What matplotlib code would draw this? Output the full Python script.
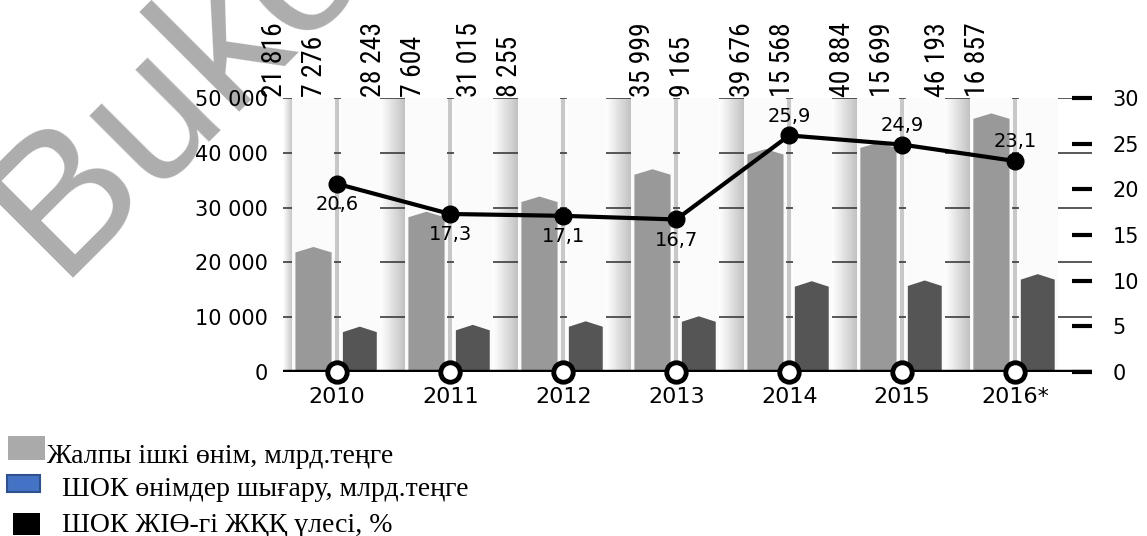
import numpy as np
import matplotlib.pyplot as plt
from matplotlib import font_manager as fm
from matplotlib.patches import Polygon, Rectangle
from matplotlib.transforms import blended_transform_factory

years = ['2010', '2011', '2012', '2013', '2014', '2015', '2016*']
gdp = [21816, 28243, 31015, 35999, 39676, 40884, 46193]
sme_output = [7276, 7604, 8255, 9165, 15568, 15699, 16857]
sme_share = [20.6, 17.3, 17.1, 16.7, 25.9, 24.9, 23.1]
left_ticks = [0, 10000, 20000, 30000, 40000, 50000]
right_ticks = [0, 5, 10, 15, 20, 25, 30]
legend_labels = ['Жалпы ішкі өнім, млрд.теңге',
                 'ШОК өнімдер шығару, млрд.теңге',
                 'ШОК ЖІӨ-гі ЖҚҚ үлесі, %']

# centres of the rotated value-label pairs (category units)
label_centres = [-0.38, 0.50, 1.35, 2.88, 3.76, 4.65, 5.49]

W, H = 1147, 536


def fx(px):
    return px / W


def fy(py):
    return 1 - py / H


def thousands(v):
    return f"{v:,.0f}".replace(",", " ")


# look for a narrow face for the rotated numbers, else shrink DejaVu
narrow_props = fm.FontProperties(family='DejaVu Sans', size=16)
for fam, stretch, size in [('Liberation Sans Narrow', 'normal', 21),
                           ('Roboto Condensed', 'normal', 20),
                           ('Noto Sans', 'condensed', 20),
                           ('Open Sans', 'condensed', 20),
                           ('DejaVu Sans', 'condensed', 19)]:
    props = fm.FontProperties(family=fam, stretch=stretch, size=size)
    try:
        path = fm.findfont(props, fallback_to_default=False)
    except ValueError:
        continue
    if 'arrow' in path or 'ondensed' in path:
        narrow_props = props
        break

fig = plt.figure(figsize=(W / 100, H / 100), dpi=100)

# watermark behind everything
fig.text(fx(58), fy(278), 'Buko', rotation=45, rotation_mode='anchor',
         ha='left', va='baseline', fontsize=140, color='#adadad',
         family='Liberation Sans', zorder=-1)

ax = fig.add_axes([fx(283), fy(372), fx(1092) - fx(283), fy(98) - fy(372)])
ax.patch.set_alpha(0)
ax2 = ax.twinx()

x = np.arange(len(years))
xmin, xmax = -0.48, 6.68
ymax = 50000
cap = 1000
gdp_off, gdp_w = -0.21, 0.32
sme_off, sme_w = 0.20, 0.30

# shaded columns behind the bars
grad = np.linspace(1.0, 0.76, 60).reshape(1, -1)
for i in x:
    g0 = i - 0.62 if i > 0 else xmin
    ax.imshow(grad, extent=[g0, i - 0.40, 0, ymax], cmap='gray', vmin=0, vmax=1,
              aspect='auto', zorder=0.5)
    ax.vlines(i, 0, ymax, color='#c8c8c8', lw=3, zorder=0.8)
    ax.add_patch(Rectangle((i - 0.40, 0), 0.37, ymax, fc='#fbfbfb', ec='none', zorder=2))
    ax.add_patch(Rectangle((i + 0.03, 0), 0.35, ymax, fc='#fbfbfb', ec='none', zorder=2))

ax.hlines(left_ticks[1:], xmin, xmax, color='#3c3c3c', lw=1.2, zorder=1)


def house_bar(xc, w, v, color):
    l, r = xc - w / 2, xc + w / 2
    ax.add_patch(Polygon([(l, 0), (l, v), (xc, v + cap), (r, v), (r, 0)],
                         closed=True, fc=color, ec='none', zorder=3))


for i in x:
    house_bar(i + gdp_off, gdp_w, gdp[i], '#999999')
    house_bar(i + sme_off, sme_w, sme_output[i], '#555555')

ax.set_xlim(xmin, xmax)
ax.set_ylim(0, ymax)
ax.set_yticks(left_ticks, [thousands(v) for v in left_ticks])
ax.set_xticks(x, years)
ax.tick_params(axis='y', length=0, pad=11, labelsize=15)
ax.tick_params(axis='x', length=0, pad=11, labelsize=16)
for s in ax.spines.values():
    s.set_visible(False)

# rotated value labels above the plot
trans = blended_transform_factory(ax.transData, ax.transAxes)
for i in x:
    for dx, v in ((-0.177, gdp[i]), (0.177, sme_output[i])):
        ax.text(label_centres[i] + dx, 1.004, thousands(v), transform=trans,
                rotation=90, ha='center', va='bottom', fontproperties=narrow_props)

# share line on the right axis
ax2.set_ylim(0, 30)
ax2.axhline(0, color='black', lw=3.2, zorder=4)
ax2.plot(x, [0] * len(x), 'o', ms=14, mfc='white', mec='black', mew=3.5,
         clip_on=False, zorder=6)
ax2.plot(x, sme_share, color='black', lw=3, marker='o', ms=12, zorder=5)
for i, v in enumerate(sme_share):
    dy = -15 if i < 4 else 14
    ax2.annotate(f"{v:.1f}".replace('.', ','), (x[i], v), xytext=(0, dy),
                 textcoords='offset points', ha='center', va='center', fontsize=14)
ax2.set_yticks(right_ticks)
ax2.tick_params(axis='y', direction='in', length=14.5, width=3, pad=15, labelsize=15)
for s in ax2.spines.values():
    s.set_visible(False)

# legend drawn by hand below the chart
fig.add_artist(Rectangle((fx(8), fy(460)), fx(45) - fx(8), fy(436) - fy(460),
                         transform=fig.transFigure, fc='#aaaaaa', ec='none'))
fig.add_artist(Rectangle((fx(7), fy(492)), fx(40) - fx(7), fy(475) - fy(492),
                         transform=fig.transFigure, fc='#4472c4', ec='#2f528f', lw=1.5))
fig.add_artist(Rectangle((fx(13), fy(535)), fx(40) - fx(13), fy(513) - fy(535),
                         transform=fig.transFigure, fc='black', ec='none'))
for (px, py), label in zip([(47, 463), (62, 496), (62, 532)], legend_labels):
    fig.text(fx(px), fy(py), label, ha='left', va='baseline', fontsize=20,
             family='Liberation Serif')

fig.savefig('out.png', dpi=100)
